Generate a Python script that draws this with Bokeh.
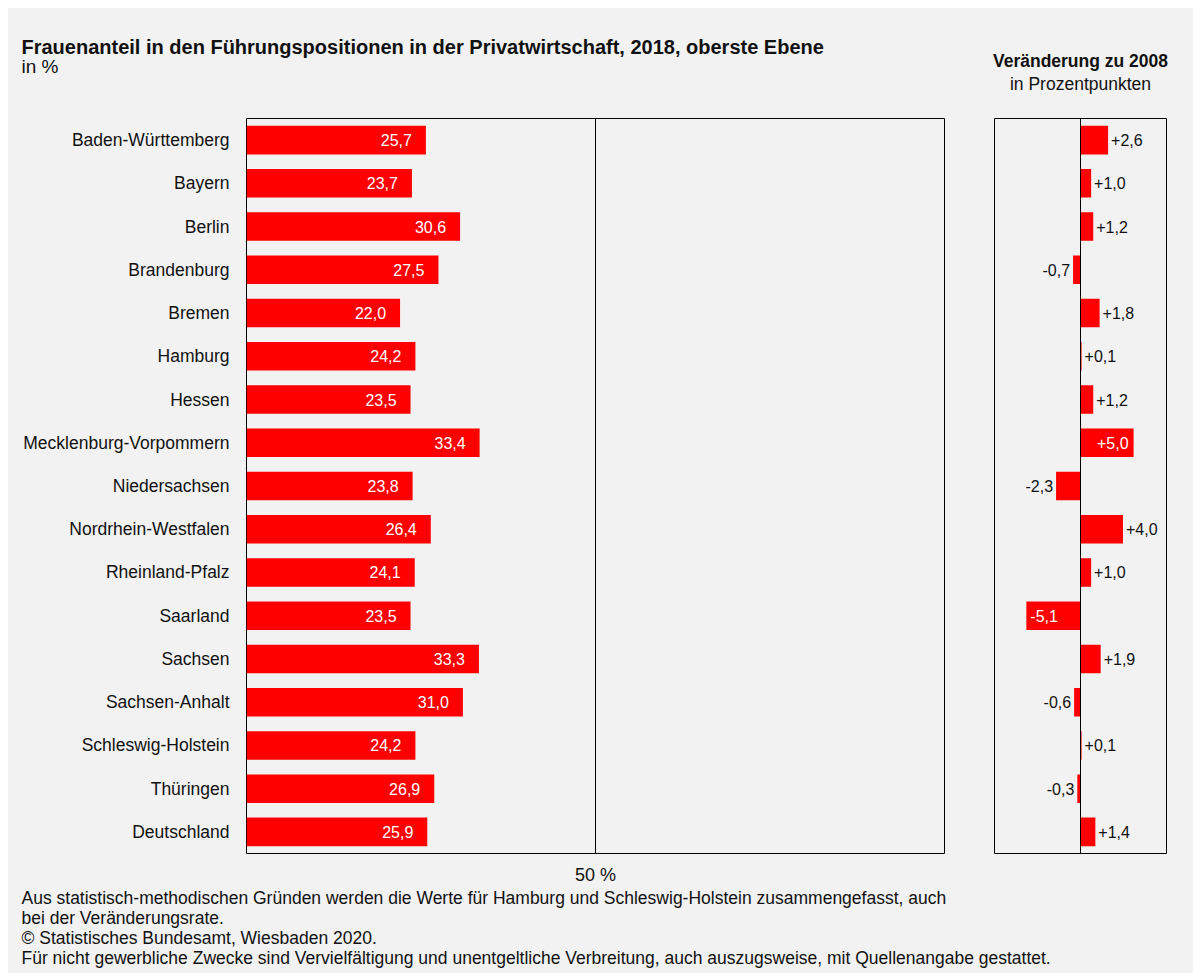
from bokeh.plotting import figure
from bokeh.layouts import column, row
from bokeh.models import Range1d, FactorRange, Span, FixedTicker, ColumnDataSource, InlineStyleSheet
from bokeh.core.properties import value
from bokeh.embed import file_html
from bokeh.resources import INLINE

# ---------------- data ----------------
laender = ["Baden-Württemberg", "Bayern", "Berlin", "Brandenburg", "Bremen", "Hamburg",
           "Hessen", "Mecklenburg-Vorpommern", "Niedersachsen", "Nordrhein-Westfalen",
           "Rheinland-Pfalz", "Saarland", "Sachsen", "Sachsen-Anhalt", "Schleswig-Holstein",
           "Thüringen", "Deutschland"]
anteil_2018 = [25.7, 23.7, 30.6, 27.5, 22.0, 24.2, 23.5, 33.4, 23.8, 26.4, 24.1, 23.5,
               33.3, 31.0, 24.2, 26.9, 25.9]
veraenderung = [2.6, 1.0, 1.2, -0.7, 1.8, 0.1, 1.2, 5.0, -2.3, 4.0, 1.0, -5.1, 1.9, -0.6,
                0.1, -0.3, 1.4]
x_tick_label = {50: "50 %"}

title_main = "Frauenanteil in den Führungspositionen in der Privatwirtschaft, 2018, oberste Ebene"
subtitle_main = "in %"
title_right = "Veränderung zu 2008"
subtitle_right = "in Prozentpunkten"
footnotes = [
    "Aus statistisch-methodischen Gründen werden die Werte für Hamburg und Schleswig-Holstein zusammengefasst, auch",
    "bei der Veränderungsrate.",
    "© Statistisches Bundesamt, Wiesbaden 2020.",
    "Für nicht gewerbliche Zwecke sind Vervielfältigung und unentgeltliche Verbreitung, auch auszugsweise, mit Quellenangabe gestattet.",
]

# ---------------- style ----------------
BG = "#f2f2f2"
RED = "#ff0000"
FONT = "Liberation Sans"
TXT = "#111111"
TOTAL_W = 1185
bg_css = InlineStyleSheet(css=":host { background-color: #f2f2f2; }")

def fmt(v, sign=False):
    s = f"{v:+.1f}" if sign else f"{v:.1f}"
    return s.replace(".", ",")

factors = list(reversed(laender))

def base_fig(**kw):
    p = figure(output_backend="svg", toolbar_location=None, **kw)
    p.background_fill_color = BG
    p.border_fill_color = BG
    p.xgrid.grid_line_color = None
    p.ygrid.grid_line_color = None
    return p

# ---------------- top text figure ----------------
top = base_fig(width=TOTAL_W, height=110, x_range=Range1d(0, TOTAL_W), y_range=Range1d(110, 0),
               x_axis_type=None, y_axis_type=None, min_border=0)
top.outline_line_color = None
top.text(x=[13], y=[38], text=[title_main], text_font=value(FONT), text_font_size="20px",
         text_font_style="bold", text_color=TXT, text_align="left", text_baseline="middle")
top.text(x=[13], y=[58], text=[subtitle_main], text_font=value(FONT), text_font_size="19px",
         text_color=TXT, text_align="left", text_baseline="middle")
top.text(x=[1072, 1072], y=[52, 75], text=[title_right, subtitle_right],
         text_font=value(FONT), text_font_size="17.5px",
         text_font_style=["bold", "normal"], text_color=TXT,
         text_align="center", text_baseline="middle")

# ---------------- left panel ----------------
left = base_fig(width=960, height=769, x_range=Range1d(0, 100),
                y_range=FactorRange(*factors), min_border_left=238, min_border_right=24,
                min_border_top=0, min_border_bottom=34)
left.outline_line_color = "black"
left.outline_line_width = 1
src_l = ColumnDataSource(dict(cat=laender, val=anteil_2018, lab=[fmt(v) for v in anteil_2018]))
left.hbar(y="cat", right="val", left=0, height=0.66, source=src_l,
          fill_color=RED, line_color=None)
left.text(x="val", y="cat", text="lab", source=src_l, x_offset=-14,
          text_font=value(FONT), text_font_size="16px", text_color="white",
          text_align="right", text_baseline="middle")
left.add_layout(Span(location=50, dimension="height", line_color="black", line_width=1))
ya = left.yaxis[0]
ya.axis_line_color = None
ya.major_tick_line_color = None
ya.minor_tick_line_color = None
ya.major_tick_out = 0
ya.major_tick_in = 0
ya.major_label_standoff = 17
ya.major_label_text_font = FONT
ya.major_label_text_font_size = "17.5px"
ya.major_label_text_color = TXT
xa = left.xaxis[0]
xa.ticker = FixedTicker(ticks=list(x_tick_label.keys()))
xa.major_label_overrides = x_tick_label
xa.axis_line_color = None
xa.major_tick_line_color = None
xa.minor_tick_line_color = None
xa.major_tick_out = 0
xa.major_tick_in = 0
xa.major_label_standoff = 11
xa.major_label_text_font = FONT
xa.major_label_text_font_size = "18px"
xa.major_label_text_color = TXT

# ---------------- right panel ----------------
right = base_fig(width=TOTAL_W - 960, height=769, x_range=Range1d(-8.1, 8.1),
                 y_range=FactorRange(*factors), x_axis_type=None, y_axis_type=None,
                 min_border_left=26, min_border_right=TOTAL_W - 960 - 26 - 172,
                 min_border_top=0, min_border_bottom=34)
right.outline_line_color = "black"
right.outline_line_width = 1
src_r = ColumnDataSource(dict(cat=laender, val=veraenderung))
right.hbar(y="cat", left=0, right="val", height=0.66, source=src_r,
           fill_color=RED, line_color=None)
right.add_layout(Span(location=0, dimension="height", line_color="black", line_width=1))

groups = {"pos_out": [], "neg_out": [], "pos_in": [], "neg_in": []}
for c, v in zip(laender, veraenderung):
    inside = abs(v) >= 5
    key = ("pos" if v >= 0 else "neg") + ("_in" if inside else "_out")
    groups[key].append((c, v))

cfg = {
    "pos_out": dict(x_offset=3, text_align="left", text_color=TXT),
    "neg_out": dict(x_offset=-3, text_align="right", text_color=TXT),
    "pos_in": dict(x_offset=-5, text_align="right", text_color="white"),
    "neg_in": dict(x_offset=4, text_align="left", text_color="white"),
}
for key, items in groups.items():
    if not items:
        continue
    cs = [c for c, _ in items]
    vs = [v for _, v in items]
    labs = [fmt(v, sign=(v > 0)) for v in vs]
    right.text(x=vs, y=cs, text=labs, text_font=value(FONT), text_font_size="16px",
               text_baseline="middle", **cfg[key])

# ---------------- bottom text figure ----------------
bottom = base_fig(width=TOTAL_W, height=86, x_range=Range1d(0, TOTAL_W), y_range=Range1d(86, 0),
                  x_axis_type=None, y_axis_type=None, min_border=0)
bottom.outline_line_color = None
bottom.text(x=[13] * len(footnotes), y=[10, 30, 50, 70], text=footnotes,
            text_font=value(FONT), text_font_size="17.5px", text_color=TXT,
            text_align="left", text_baseline="middle")

for f in (top, left, right, bottom):
    f.stylesheets = [bg_css]

layout = column(top, row(left, right, spacing=0, stylesheets=[bg_css]), bottom,
                spacing=0, margin=(8, 0, 0, 8), stylesheets=[bg_css])
open("out.html", "w").write(file_html(layout, INLINE))
